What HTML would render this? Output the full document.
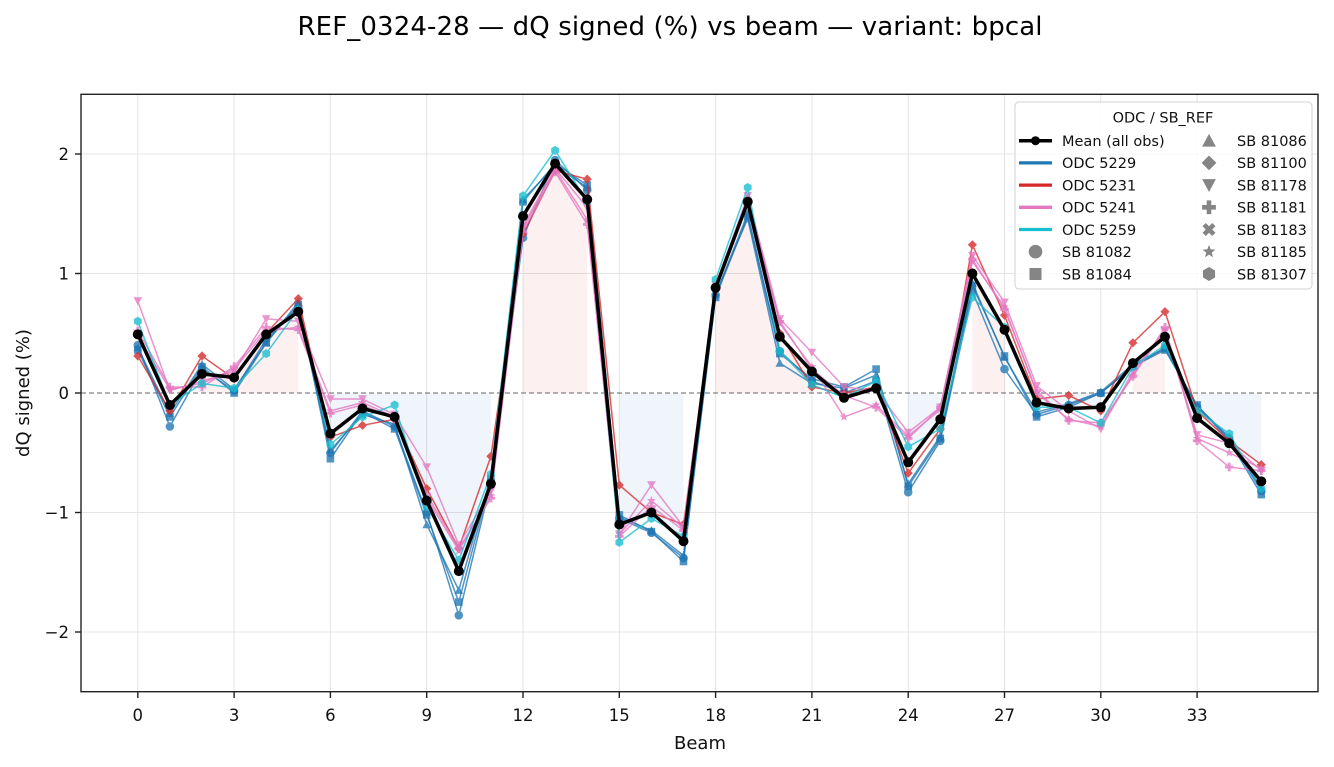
<!DOCTYPE html>
<html><head><meta charset="utf-8">
<style>
html,body{margin:0;padding:0;background:#fff;}
svg{display:block;font-family:"DejaVu Sans","Liberation Sans",sans-serif;}
</style></head><body>
<svg width="1334" height="767" viewBox="0 0 1334 767" xmlns="http://www.w3.org/2000/svg">
<defs>
<marker id="mBo" markerUnits="userSpaceOnUse" markerWidth="12" markerHeight="12" viewBox="-6 -6 12 12" refX="0" refY="0" orient="0" overflow="visible"><circle r="4.3" fill="#1f77b4"/></marker>
<marker id="mBs" markerUnits="userSpaceOnUse" markerWidth="12" markerHeight="12" viewBox="-6 -6 12 12" refX="0" refY="0" orient="0" overflow="visible"><rect x="-3.8" y="-3.8" width="7.6" height="7.6" fill="#1f77b4"/></marker>
<marker id="mBt" markerUnits="userSpaceOnUse" markerWidth="12" markerHeight="12" viewBox="-6 -6 12 12" refX="0" refY="0" orient="0" overflow="visible"><path d="M0,-4.3L4.3,3.7L-4.3,3.7Z" fill="#1f77b4"/></marker>
<marker id="mRd" markerUnits="userSpaceOnUse" markerWidth="12" markerHeight="12" viewBox="-6 -6 12 12" refX="0" refY="0" orient="0" overflow="visible"><path d="M0,-4.6L4.6,0L0,4.6L-4.6,0Z" fill="#d62728"/></marker>
<marker id="mPv" markerUnits="userSpaceOnUse" markerWidth="12" markerHeight="12" viewBox="-6 -6 12 12" refX="0" refY="0" orient="0" overflow="visible"><path d="M0,4.3L4.3,-3.7L-4.3,-3.7Z" fill="#e377c2"/></marker>
<marker id="mPp" markerUnits="userSpaceOnUse" markerWidth="12" markerHeight="12" viewBox="-6 -6 12 12" refX="0" refY="0" orient="0" overflow="visible"><path d="M-1.43,-4.3H1.43V-1.43H4.3V1.43H1.43V4.3H-1.43V1.43H-4.3V-1.43H-1.43Z" fill="#e377c2"/></marker>
<marker id="mPs" markerUnits="userSpaceOnUse" markerWidth="12" markerHeight="12" viewBox="-6 -6 12 12" refX="0" refY="0" orient="0" overflow="visible"><path d="M0,-4.7L1.18,-1.62L4.47,-1.45L1.9,0.62L2.76,3.8L0,2L-2.76,3.8L-1.9,0.62L-4.47,-1.45L-1.18,-1.62Z" fill="#e377c2"/></marker>
<marker id="mCh" markerUnits="userSpaceOnUse" markerWidth="12" markerHeight="12" viewBox="-6 -6 12 12" refX="0" refY="0" orient="0" overflow="visible"><path d="M0,-4.5L3.9,-2.25L3.9,2.25L0,4.5L-3.9,2.25L-3.9,-2.25Z" fill="#17becf"/></marker>
<marker id="mM" markerUnits="userSpaceOnUse" markerWidth="12" markerHeight="12" viewBox="-6 -6 12 12" refX="0" refY="0" orient="0" overflow="visible"><circle r="5" fill="#000"/></marker>
</defs>
<rect width="1334" height="767" fill="#fff"/>
<text x="670" y="35" font-size="26" text-anchor="middle" fill="#000" textLength="745">REF_0324-28 — dQ signed (%) vs beam — variant: bpcal</text>
<g stroke="#e4e4e4" stroke-width="1">
<line x1="137.8" y1="94.3" x2="137.8" y2="691.7"/>
<line x1="234.1" y1="94.3" x2="234.1" y2="691.7"/>
<line x1="330.4" y1="94.3" x2="330.4" y2="691.7"/>
<line x1="426.7" y1="94.3" x2="426.7" y2="691.7"/>
<line x1="523" y1="94.3" x2="523" y2="691.7"/>
<line x1="619.3" y1="94.3" x2="619.3" y2="691.7"/>
<line x1="715.6" y1="94.3" x2="715.6" y2="691.7"/>
<line x1="811.9" y1="94.3" x2="811.9" y2="691.7"/>
<line x1="908.2" y1="94.3" x2="908.2" y2="691.7"/>
<line x1="1004.5" y1="94.3" x2="1004.5" y2="691.7"/>
<line x1="1100.8" y1="94.3" x2="1100.8" y2="691.7"/>
<line x1="1197.1" y1="94.3" x2="1197.1" y2="691.7"/>
<line x1="81" y1="154" x2="1318" y2="154"/>
<line x1="81" y1="273.5" x2="1318" y2="273.5"/>
<line x1="81" y1="512.5" x2="1318" y2="512.5"/>
<line x1="81" y1="632" x2="1318" y2="632"/>
</g>
<g fill="#d62728" fill-opacity="0.07">
<path d="M202,373.9L234.1,377.5L266.2,334.4L298.3,311.7L298.3,393L202,393Z"/>
<path d="M523,216.1L555.1,163.6L587.2,199.4L587.2,393L523,393Z"/>
<path d="M715.6,287.8L747.7,201.8L779.8,336.8L811.9,371.5L811.9,393L715.6,393Z"/>
<path d="M972.4,273.5L1004.5,329.7L1004.5,393L972.4,393Z"/>
<path d="M1132.9,363.1L1165,336.8L1165,393L1132.9,393Z"/>
</g>
<g fill="#1f77b4" fill-opacity="0.07">
<path d="M330.4,433.6L362.5,408.5L394.6,416.9L426.7,500.6L458.8,571.1L490.9,483.8L490.9,393L330.4,393Z"/>
<path d="M619.3,524.5L651.4,512.5L683.5,541.2L683.5,393L619.3,393Z"/>
<path d="M908.2,462.3L940.3,419.3L940.3,393L908.2,393Z"/>
<path d="M1036.6,402.6L1068.7,408.5L1100.8,407.3L1100.8,393L1036.6,393Z"/>
<path d="M1197.1,418.1L1229.2,443.2L1261.3,481.4L1261.3,393L1197.1,393Z"/>
</g>
<line x1="81" y1="393" x2="1318" y2="393" stroke="#666" stroke-width="1" stroke-dasharray="5,3"/>

<g fill="none" stroke-width="1.5" stroke-linejoin="round">
<g opacity="0.78"><polyline stroke="#1f77b4" marker-start="url(#mBo)" marker-mid="url(#mBo)" marker-end="url(#mBo)" points="137.8,345.2 169.9,426.5 202.0,369.1 234.1,390.6 266.2,339.2 298.3,307.0 330.4,452.8 362.5,410.9 394.6,426.5 426.7,512.5 458.8,615.3 490.9,482.6 523.0,237.7 555.1,160.0 587.2,189.9 619.3,518.5 651.4,532.8 683.5,557.9 715.6,295.0 747.7,213.8 779.8,351.2 811.9,381.1 844.0,393.0 876.1,381.1 908.2,492.2 940.3,440.8 972.4,291.4 1004.5,369.1 1036.6,414.5 1068.7,405.0 1100.8,393.0 1132.9,366.7 1165.0,347.6 1197.1,407.3 1229.2,438.4 1261.3,491.0"/></g>
<g opacity="0.78"><polyline stroke="#1f77b4" marker-start="url(#mBs)" marker-mid="url(#mBs)" marker-end="url(#mBs)" points="137.8,350.0 169.9,416.9 202.0,366.7 234.1,393.0 266.2,342.8 298.3,304.6 330.4,458.7 362.5,412.1 394.6,428.9 426.7,514.9 458.8,602.1 490.9,479.0 523.0,201.8 555.1,163.6 587.2,185.1 619.3,514.9 651.4,531.6 683.5,561.5 715.6,297.4 747.7,216.1 779.8,353.6 811.9,378.7 844.0,387.0 876.1,369.1 908.2,486.2 940.3,438.4 972.4,285.5 1004.5,356.0 1036.6,416.9 1068.7,407.3 1100.8,393.0 1132.9,366.7 1165.0,350.0 1197.1,405.0 1229.2,440.8 1261.3,494.6"/></g>
<g opacity="0.78"><polyline stroke="#1f77b4" marker-start="url(#mBt)" marker-mid="url(#mBt)" marker-end="url(#mBt)" points="137.8,347.6 169.9,413.3 202.0,364.3 234.1,389.4 266.2,342.8 298.3,302.2 330.4,450.4 362.5,414.5 394.6,424.1 426.7,524.5 458.8,590.2 490.9,476.7 523.0,199.4 555.1,166.0 587.2,187.5 619.3,517.3 651.4,530.4 683.5,555.5 715.6,293.8 747.7,218.5 779.8,363.1 811.9,383.4 844.0,388.2 876.1,375.1 908.2,483.8 940.3,436.0 972.4,283.1 1004.5,357.2 1036.6,412.1 1068.7,403.8 1100.8,391.8 1132.9,364.3 1165.0,348.8 1197.1,406.1 1229.2,437.2 1261.3,488.6"/></g>
<g opacity="0.78"><polyline stroke="#d62728" marker-start="url(#mRd)" marker-mid="url(#mRd)" marker-end="url(#mRd)" points="137.8,356.0 169.9,410.9 202.0,356.0 234.1,378.7 266.2,333.3 298.3,298.6 330.4,437.2 362.5,425.3 394.6,419.3 426.7,488.6 458.8,548.4 490.9,456.3 523.0,234.1 555.1,170.7 587.2,179.1 619.3,485.0 651.4,512.5 683.5,524.5 715.6,289.0 747.7,201.8 779.8,333.3 811.9,387.0 844.0,393.0 876.1,387.0 908.2,473.1 940.3,428.9 972.4,244.8 1004.5,315.3 1036.6,399.0 1068.7,395.4 1100.8,410.9 1132.9,342.8 1165.0,311.7 1197.1,410.9 1229.2,440.8 1261.3,464.7"/></g>
<g opacity="0.78"><polyline stroke="#e377c2" marker-start="url(#mPv)" marker-mid="url(#mPv)" marker-end="url(#mPv)" points="137.8,301.0 169.9,390.6 202.0,381.1 234.1,371.5 266.2,318.9 298.3,321.3 330.4,399.0 362.5,399.0 394.6,414.5 426.7,467.1 458.8,544.8 490.9,491.0 523.0,225.7 555.1,168.3 587.2,207.8 619.3,534.0 651.4,485.0 683.5,526.8 715.6,285.5 747.7,195.8 779.8,318.9 811.9,352.4 844.0,387.0 876.1,390.6 908.2,432.4 940.3,407.3 972.4,255.6 1004.5,302.2 1036.6,385.8 1068.7,410.9 1100.8,428.9 1132.9,371.5 1165.0,330.9 1197.1,434.8 1229.2,443.2 1261.3,470.7"/></g>
<g opacity="0.78"><polyline stroke="#e377c2" marker-start="url(#mPp)" marker-mid="url(#mPp)" marker-end="url(#mPp)" points="137.8,330.9 169.9,387.0 202.0,387.0 234.1,366.7 266.2,327.3 298.3,329.7 330.4,413.3 362.5,405.0 394.6,419.3 426.7,494.6 458.8,548.4 490.9,498.2 523.0,231.7 555.1,171.9 587.2,224.5 619.3,536.4 651.4,506.5 683.5,530.4 715.6,287.8 747.7,199.4 779.8,321.3 811.9,369.1 844.0,395.4 876.1,407.3 908.2,438.4 940.3,407.3 972.4,259.2 1004.5,309.4 1036.6,390.6 1068.7,420.5 1100.8,422.9 1132.9,376.3 1165.0,327.3 1197.1,440.8 1229.2,467.1 1261.3,470.7"/></g>
<g opacity="0.78"><polyline stroke="#e377c2" marker-start="url(#mPs)" marker-mid="url(#mPs)" marker-end="url(#mPs)" points="137.8,335.6 169.9,389.4 202.0,383.4 234.1,369.1 266.2,330.9 298.3,327.3 330.4,410.9 362.5,402.6 394.6,416.9 426.7,498.2 458.8,550.7 490.9,495.8 523.0,228.1 555.1,169.5 587.2,219.7 619.3,534.0 651.4,500.6 683.5,528.0 715.6,290.2 747.7,198.2 779.8,323.7 811.9,366.7 844.0,416.9 876.1,405.0 908.2,436.0 940.3,409.7 972.4,261.6 1004.5,307.0 1036.6,393.0 1068.7,419.3 1100.8,426.5 1132.9,375.1 1165.0,330.9 1197.1,438.4 1229.2,452.8 1261.3,468.3"/></g>
<g opacity="0.78"><polyline stroke="#17becf" marker-start="url(#mCh)" marker-mid="url(#mCh)" marker-end="url(#mCh)" points="137.8,321.3 169.9,405.0 202.0,383.4 234.1,388.2 266.2,353.6 298.3,309.4 330.4,444.4 362.5,416.9 394.6,405.0 426.7,506.5 458.8,560.3 490.9,474.3 523.0,195.8 555.1,150.4 587.2,201.8 619.3,542.4 651.4,518.5 683.5,536.4 715.6,279.5 747.7,187.5 779.8,351.2 811.9,384.6 844.0,397.8 876.1,381.1 908.2,446.8 940.3,428.9 972.4,297.4 1004.5,327.3 1036.6,407.3 1068.7,407.3 1100.8,422.9 1132.9,366.7 1165.0,345.2 1197.1,410.9 1229.2,433.6 1261.3,488.6"/></g>
<polyline stroke="#000" stroke-width="3.5" marker-start="url(#mM)" marker-mid="url(#mM)" marker-end="url(#mM)" points="137.8,334.4 169.9,405.0 202.0,373.9 234.1,377.5 266.2,334.4 298.3,311.7 330.4,433.6 362.5,408.5 394.6,416.9 426.7,500.6 458.8,571.1 490.9,483.8 523.0,216.1 555.1,163.6 587.2,199.4 619.3,524.5 651.4,512.5 683.5,541.2 715.6,287.8 747.7,201.8 779.8,336.8 811.9,371.5 844.0,397.8 876.1,388.2 908.2,462.3 940.3,419.3 972.4,273.5 1004.5,329.7 1036.6,402.6 1068.7,408.5 1100.8,407.3 1132.9,363.1 1165.0,336.8 1197.1,418.1 1229.2,443.2 1261.3,481.4"/>
</g>

<rect x="81" y="94.3" width="1237" height="597.4" fill="none" stroke="#222" stroke-width="1.4"/>
<g stroke="#222" stroke-width="1.4">
<line x1="137.8" y1="692" x2="137.8" y2="698"/>
<line x1="234.1" y1="692" x2="234.1" y2="698"/>
<line x1="330.4" y1="692" x2="330.4" y2="698"/>
<line x1="426.7" y1="692" x2="426.7" y2="698"/>
<line x1="523" y1="692" x2="523" y2="698"/>
<line x1="619.3" y1="692" x2="619.3" y2="698"/>
<line x1="715.6" y1="692" x2="715.6" y2="698"/>
<line x1="811.9" y1="692" x2="811.9" y2="698"/>
<line x1="908.2" y1="692" x2="908.2" y2="698"/>
<line x1="1004.5" y1="692" x2="1004.5" y2="698"/>
<line x1="1100.8" y1="692" x2="1100.8" y2="698"/>
<line x1="1197.1" y1="692" x2="1197.1" y2="698"/>
<line x1="75" y1="154" x2="81" y2="154"/>
<line x1="75" y1="273.5" x2="81" y2="273.5"/>
<line x1="75" y1="393" x2="81" y2="393"/>
<line x1="75" y1="512.5" x2="81" y2="512.5"/>
<line x1="75" y1="632" x2="81" y2="632"/>
</g>
<g font-size="16.5" fill="#111" text-anchor="middle">
<text x="137.8" y="721">0</text>
<text x="234.1" y="721">3</text>
<text x="330.4" y="721">6</text>
<text x="426.7" y="721">9</text>
<text x="523" y="721">12</text>
<text x="619.3" y="721">15</text>
<text x="715.6" y="721">18</text>
<text x="811.9" y="721">21</text>
<text x="908.2" y="721">24</text>
<text x="1004.5" y="721">27</text>
<text x="1100.8" y="721">30</text>
<text x="1197.1" y="721">33</text>
</g>
<g font-size="16.5" fill="#111" text-anchor="end">
<text x="69" y="160">2</text>
<text x="69" y="279.5">1</text>
<text x="69" y="399">0</text>
<text x="69" y="518.5">−1</text>
<text x="69" y="638">−2</text>
</g>
<text x="700" y="749" font-size="18" text-anchor="middle" fill="#111">Beam</text>
<text transform="translate(29,393) rotate(-90)" font-size="18" text-anchor="middle" fill="#111">dQ signed (%)</text>

<rect x="1015" y="102" width="297" height="187" rx="4" ry="4" fill="#fff" fill-opacity="0.85" stroke="#d0d0d0" stroke-width="1"/>
<g font-size="14.5" fill="#111">
<text x="1163" y="122.7" text-anchor="middle">ODC / SB_REF</text>
<text x="1062" y="146">Mean (all obs)</text>
<text x="1062" y="168.2">ODC 5229</text>
<text x="1062" y="190.4">ODC 5231</text>
<text x="1062" y="212.6">ODC 5241</text>
<text x="1062" y="234.8">ODC 5259</text>
<text x="1062" y="257">SB 81082</text>
<text x="1062" y="279.3">SB 81084</text>
<text x="1237" y="146">SB 81086</text>
<text x="1237" y="168.2">SB 81100</text>
<text x="1237" y="190.4">SB 81178</text>
<text x="1237" y="212.6">SB 81181</text>
<text x="1237" y="234.8">SB 81183</text>
<text x="1237" y="257">SB 81185</text>
<text x="1237" y="279.3">SB 81307</text>
</g>
<line x1="1019" y1="140.7" x2="1052" y2="140.7" stroke="#000" stroke-width="3.5"/>
<circle cx="1035.5" cy="140.7" r="4.5" fill="#000"/>
<line x1="1019" y1="162.9" x2="1052" y2="162.9" stroke="#1f77b4" stroke-width="3.3"/>
<line x1="1019" y1="185.1" x2="1052" y2="185.1" stroke="#d62728" stroke-width="3.3"/>
<line x1="1019" y1="207.3" x2="1052" y2="207.3" stroke="#e377c2" stroke-width="3.3"/>
<line x1="1019" y1="229.5" x2="1052" y2="229.5" stroke="#17becf" stroke-width="3.3"/>
<g fill="#858585">
<circle cx="1035.5" cy="251.7" r="6.8"/>
<rect x="1029.5" y="268" width="12" height="12"/>
<path transform="translate(1209,140.7) scale(1.6)" d="M0,-4.3L4.3,3.7L-4.3,3.7Z"/>
<path transform="translate(1209,162.9) scale(1.6)" d="M0,-4.6L4.6,0L0,4.6L-4.6,0Z"/>
<path transform="translate(1209,185.1) scale(1.6)" d="M0,4.3L4.3,-3.7L-4.3,-3.7Z"/>
<path transform="translate(1209,207.3) scale(1.6)" d="M-1.43,-4.3H1.43V-1.43H4.3V1.43H1.43V4.3H-1.43V1.43H-4.3V-1.43H-1.43Z"/>
<path transform="translate(1209,229.5) scale(1.6) rotate(45)" d="M-1.43,-4.3H1.43V-1.43H4.3V1.43H1.43V4.3H-1.43V1.43H-4.3V-1.43H-1.43Z"/>
<path transform="translate(1209,251.7) scale(1.45)" d="M0,-4.7L1.18,-1.62L4.47,-1.45L1.9,0.62L2.76,3.8L0,2L-2.76,3.8L-1.9,0.62L-4.47,-1.45L-1.18,-1.62Z"/>
<path transform="translate(1209,274) scale(1.55)" d="M0,-4.5L3.9,-2.25L3.9,2.25L0,4.5L-3.9,2.25L-3.9,-2.25Z"/>
</g>
</svg>
</body></html>
